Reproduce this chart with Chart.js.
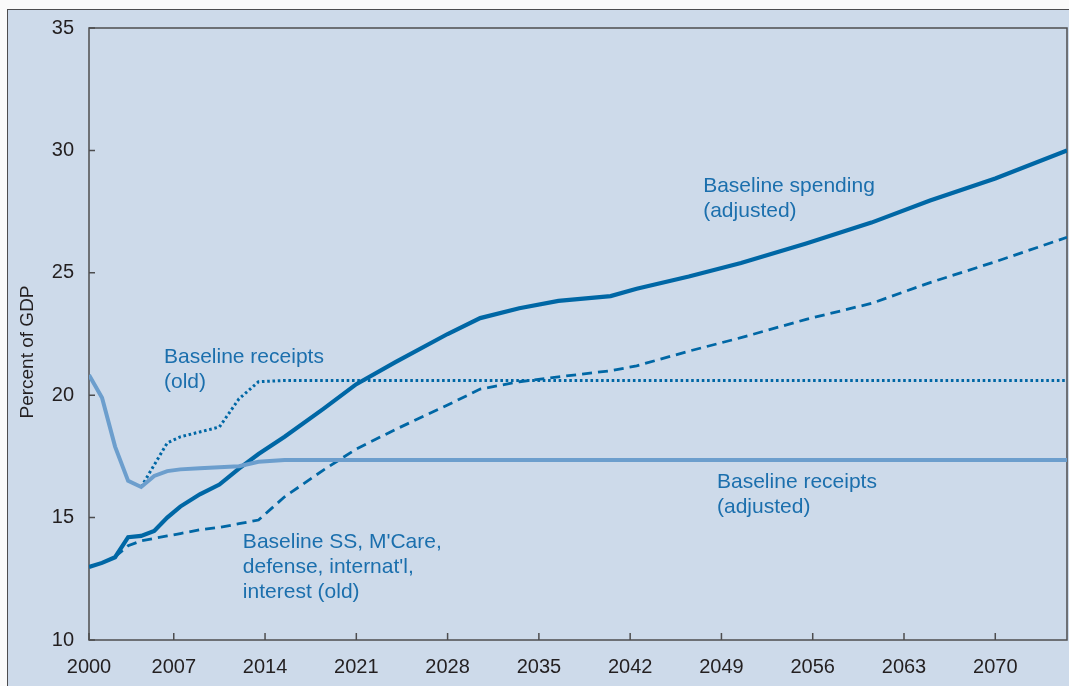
<!DOCTYPE html>
<html>
<head>
<meta charset="utf-8">
<script src="https://cdn.jsdelivr.net/npm/chart.js@4/dist/chart.umd.min.js"></script>
<style>
  body { margin: 0; background: #fafafa; }
  #wrap { position: relative; width: 1069px; height: 686px; overflow: hidden; }
  #panel { position: absolute; left: 7px; top: 9px; width: 1100px; height: 700px;
           background: #cddaea; border-left: 1px solid #4d4d4f; border-top: 1px solid #4d4d4f; }
  #box { position: absolute; left: 0; top: 0; width: 1069px; height: 686px; }
</style>
</head>
<body>
<div id="wrap">
  <div id="panel"></div>
  <div id="box"><canvas id="myChart"></canvas></div>
</div>
<script>
const years = [2000.5, 2001.5, 2002.5, 2003.5, 2004.5, 2005.5, 2006.5, 2007.5, 2009, 2010.5,
  2012, 2013.5, 2015.5, 2018.5, 2021, 2024, 2028, 2030.5, 2033.5, 2036.5,
  2040.5, 2042.5, 2046.5, 2050.5, 2055.5, 2060.5, 2065, 2070, 2075.5];

const spendingAdjusted = [12.98, 13.15, 13.38, 14.2, 14.25, 14.45, 15.0, 15.45, 15.95, 16.35,
  17.0, 17.6, 18.3, 19.45, 20.45, 21.35, 22.5, 23.15, 23.55, 23.85,
  24.05, 24.35, 24.85, 25.4, 26.2, 27.05, 27.95, 28.85, 30.0];

const spendingOld = [null, null, 13.4, 13.85, 14.05, 14.15, 14.25, 14.35, 14.5, 14.6,
  14.75, 14.9, 15.85, 16.95, 17.8, 18.6, 19.6, 20.25, 20.55, 20.75,
  21.0, 21.2, 21.8, 22.35, 23.1, 23.75, 24.6, 25.45, 26.45];

const receiptsOld = [null, null, null, null, 16.25, 17.15, 18.05, 18.3, 18.5, 18.7,
  19.85, 20.55, 20.6, 20.6, 20.6, 20.6, 20.6, 20.6, 20.6, 20.6,
  20.6, 20.6, 20.6, 20.6, 20.6, 20.6, 20.6, 20.6, 20.6];

const receiptsAdjusted = [20.83, 19.9, 17.9, 16.5, 16.25, 16.7, 16.9, 16.97, 17.02, 17.06,
  17.1, 17.28, 17.35, 17.35, 17.35, 17.35, 17.35, 17.35, 17.35, 17.35,
  17.35, 17.35, 17.35, 17.35, 17.35, 17.35, 17.35, 17.35, 17.35];

const xTickLabels = ["2000", "2007", "2014", "2021", "2028", "2035", "2042", "2049", "2056", "2063", "2070"];
const yTickValues = [10, 15, 20, 25, 30, 35];
const yTitle = "Percent of GDP";

// text notes, placed in data units (year, value of first line)
const notes = [
  { lines: ["Baseline spending", "(adjusted)"], year: 2047.6, value: 28.55 },
  { lines: ["Baseline receipts", "(old)"], year: 2006.25, value: 21.56 },
  { lines: ["Baseline receipts", "(adjusted)"], year: 2048.66, value: 16.45 },
  { lines: ["Baseline SS, M'Care,", "defense, internat'l,", "interest (old)"], year: 2012.3, value: 14.0 },
];

const darkBlue = "#0067a5";
const lightBlue = "#6c9ecd";
const textBlue = "#1b6fad";
const axisGray = "#4d4d4f";
const fontFamily = '"Liberation Sans", Arial, sans-serif';

function toPoints(values) {
  return years.map((yr, i) => ({ x: yr, y: values[i] }));
}

const frameAndNotes = {
  id: "frameAndNotes",
  beforeDatasetsDraw(chart) {
    const { ctx, chartArea: a, scales: { x, y } } = chart;
    ctx.save();
    ctx.strokeStyle = axisGray;
    ctx.lineWidth = 1.5;
    ctx.strokeRect(a.left, a.top, a.right - a.left, a.bottom - a.top);
    ctx.beginPath();
    x.ticks.forEach((t) => {
      const px = x.getPixelForValue(t.value);
      ctx.moveTo(px, a.bottom);
      ctx.lineTo(px, a.bottom - 7);
    });
    y.ticks.forEach((t) => {
      const py = y.getPixelForValue(t.value);
      ctx.moveTo(a.left, py);
      ctx.lineTo(a.left + 6, py);
    });
    ctx.stroke();

    // y axis title, a bit below the middle of the axis as in the original
    ctx.fillStyle = "#231f20";
    ctx.font = "19px " + fontFamily;
    ctx.textAlign = "center";
    ctx.textBaseline = "middle";
    ctx.translate(28, (a.top + a.bottom) / 2 + 18);
    ctx.rotate(-Math.PI / 2);
    ctx.fillText(yTitle, 0, 0);
    ctx.restore();
  },
  afterDatasetsDraw(chart) {
    const { ctx, scales: { x, y } } = chart;
    ctx.save();
    ctx.fillStyle = textBlue;
    ctx.font = "21px " + fontFamily;
    ctx.textBaseline = "middle";
    ctx.textAlign = "left";
    notes.forEach((n) => {
      const px = x.getPixelForValue(n.year);
      const py = y.getPixelForValue(n.value);
      n.lines.forEach((line, i) => ctx.fillText(line, px, py + i * 25));
    });
    ctx.restore();
  },
};

const ctx = document.getElementById("myChart").getContext("2d");
const myChart = new Chart(ctx, {
  type: "line",
  data: {
    datasets: [
      {
        label: "Baseline receipts (adjusted)",
        data: toPoints(receiptsAdjusted),
        borderColor: lightBlue,
        borderWidth: 4,
      },
      {
        label: "Baseline receipts (old)",
        data: toPoints(receiptsOld),
        borderColor: darkBlue,
        borderWidth: 3,
        borderDash: [2.6, 2.7],
      },
      {
        label: "Baseline SS, M'Care, defense, internat'l, interest (old)",
        data: toPoints(spendingOld),
        borderColor: darkBlue,
        borderWidth: 2.8,
        borderDash: [10, 6],
      },
      {
        label: "Baseline spending (adjusted)",
        data: toPoints(spendingAdjusted),
        borderColor: darkBlue,
        borderWidth: 4.2,
      },
    ],
  },
  options: {
    responsive: true,
    maintainAspectRatio: false,
    animation: false,
    layout: { padding: { top: 28, right: 2, left: 0, bottom: 0 } },
    elements: { point: { radius: 0 }, line: { tension: 0, fill: false } },
    plugins: { legend: { display: false }, tooltip: { enabled: false } },
    scales: {
      x: {
        type: "linear",
        min: 2000.5,
        max: 2075.5,
        grid: { display: false },
        border: { display: false },
        afterFit: (s) => { s.height = 46; },
        afterBuildTicks: (s) => {
          s.ticks = xTickLabels.map((lab) => ({ value: Math.max(Number(lab), s.min) }));
        },
        ticks: {
          autoSkip: false,
          maxRotation: 0,
          padding: 7,
          color: "#231f20",
          font: { family: fontFamily, size: 20 },
          callback: (value, index) => xTickLabels[index],
        },
      },
      y: {
        min: 10,
        max: 35,
        grid: { display: false },
        border: { display: false },
        afterFit: (s) => { s.width = 89; },
        afterBuildTicks: (s) => {
          s.ticks = yTickValues.map((v) => ({ value: v }));
        },
        ticks: {
          padding: 7,
          color: "#231f20",
          font: { family: fontFamily, size: 20 },
        },
      },
    },
  },
  plugins: [frameAndNotes],
});
</script>
</body>
</html>
